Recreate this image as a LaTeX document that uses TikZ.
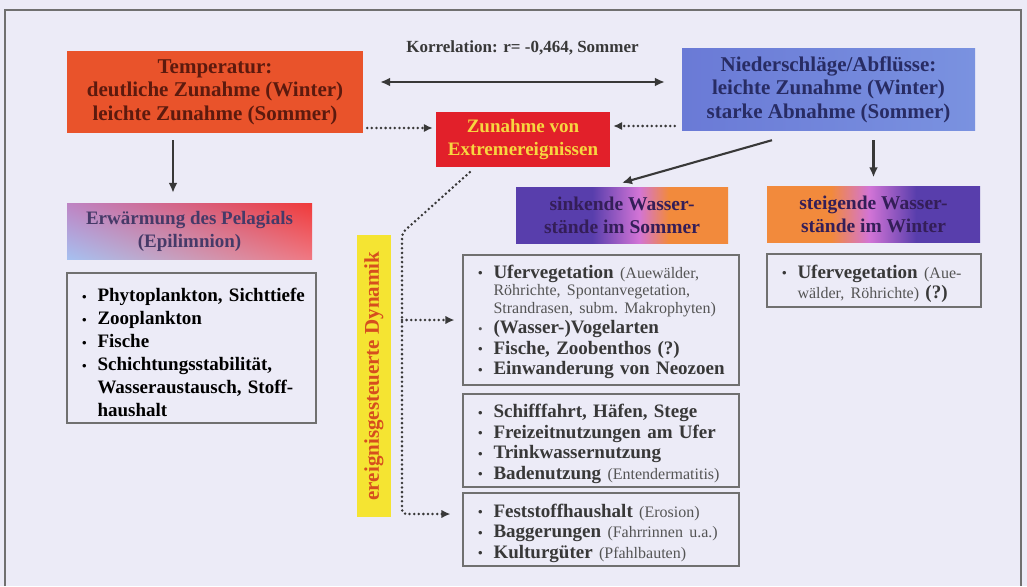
\documentclass[tikz,border=0pt]{standalone}
\usepackage{fontspec}
\setmainfont{Liberation Serif}
\usepackage{tikz}
\usetikzlibrary{arrows.meta}
\usetikzlibrary{positioning}
\usetikzlibrary{shadings}
\definecolor{mpaper}{RGB}{236, 235, 247}
\definecolor{mframe}{RGB}{112, 112, 112}
\definecolor{mtemp}{RGB}{233, 83, 43}
\definecolor{mtemptxt}{RGB}{92, 26, 14}
\definecolor{mnied}{RGB}{106, 122, 214}
\definecolor{mniedr}{RGB}{122, 146, 224}
\definecolor{mniedtxt}{RGB}{40, 44, 100}
\definecolor{mext}{RGB}{226, 32, 42}
\definecolor{mexttxt}{RGB}{247, 214, 64}
\definecolor{mviolet}{RGB}{88, 62, 172}
\definecolor{mpink}{RGB}{210, 116, 214}
\definecolor{morange}{RGB}{242, 138, 60}
\definecolor{mwastxt}{RGB}{52, 30, 88}
\definecolor{mblue}{RGB}{166, 192, 240}
\definecolor{mred}{RGB}{240, 58, 58}
\definecolor{mmauve}{RGB}{190, 132, 196}
\definecolor{msalmon}{RGB}{240, 120, 130}
\definecolor{mpelatxt}{RGB}{70, 58, 104}
\definecolor{myellow}{RGB}{245, 228, 50}
\definecolor{mdyntxt}{RGB}{214, 78, 30}
\definecolor{mdark}{RGB}{56, 56, 56}
\definecolor{mgrey}{RGB}{84, 84, 84}
\pgfdeclarehorizontalshading{sinkshade}{100bp}{color(0bp)=(mviolet); color(25bp)=(mviolet); color(43bp)=(mviolet); color(54bp)=(mpink); color(61bp)=(morange); color(75bp)=(morange); color(100bp)=(morange)}
\pgfdeclarehorizontalshading{steigshade}{100bp}{color(0bp)=(morange); color(25bp)=(morange); color(40bp)=(morange); color(49bp)=(mpink); color(60bp)=(mviolet); color(75bp)=(mviolet); color(100bp)=(mviolet)}
\newcommand{\lst}{\fontsize{19}{20.5}\selectfont\bfseries\color{mdark}}
\newcommand{\sml}{\fontsize{16}{17.5}\selectfont\mdseries\color{mgrey}}
\newcommand{\bul}{\par\leftskip=11pt\hangindent=15.5pt\hangafter=1\noindent\makebox[15.5pt][l]{\raisebox{0.5pt}{\fontsize{13}{13}\selectfont\textbullet}}}
\tikzset{
  headbox/.style={inner sep=2pt, align=center, font=\fontsize{21}{23.5}\selectfont\bfseries},
  wasbox/.style={inner sep=2pt, align=center, text=mwastxt, font=\fontsize{19.5}{23}\selectfont\bfseries},
  listbox/.style={draw=mframe, line width=1.1pt, inner xsep=4pt, inner ysep=2pt, font=\lst},
  solidarrow/.style={draw=mdark, line width=2.1pt, -{Latex[length=10pt, width=9pt]}},
  dotarrow/.style={draw=mdark, line width=2.8pt, line cap=round, dash pattern=on 0pt off 4.6pt, -{Latex[length=9pt, width=8.5pt]}}
}

\begin{document}
\begin{tikzpicture}[x=1pt, y=-1pt]
      \useasboundingbox (0, 0) rectangle (1027, 586);
      \fill [mpaper] (0, 0) rectangle (1027, 586);
      \draw [mframe, line width=1.2pt] (5, 586) -- (5, 10) -- (1021, 10) -- (1021, 586);

      \node (temp) at (215, 92) [headbox, fill=mtemp, text=mtemptxt, minimum width=296pt, minimum height=82pt] {Temperatur:\\ deutliche Zunahme (Winter)\\ leichte Zunahme (Sommer)};
      \node (nied) at (828.5, 89.5) [headbox, left color=mnied, right color=mniedr, text=mniedtxt, minimum width=293pt, minimum height=81pt] {Niederschläge/Abflüsse:\\ leichte Zunahme (Winter)\\ starke Abnahme (Sommer)};
      \node (extreme) at (523, 139.5) [headbox, fill=mext, text=mexttxt, minimum width=174pt, minimum height=55pt, font=\fontsize{19}{23}\selectfont\bfseries] {Zunahme von\\ Extremereignissen};

      \node (erw) at (189.5, 231) [headbox, upper left=mmauve, upper right=mred, lower left=mblue, lower right=msalmon, text=mpelatxt, minimum width=245pt, minimum height=56pt, font=\fontsize{19}{23}\selectfont\bfseries] {Erwärmung des Pelagials\\ (Epilimnion)};
      \node (sink) at (622, 215) [wasbox, shading=sinkshade, minimum width=212pt, minimum height=56pt] {sinkende Wasser-\\ stände im Sommer};
      \node (steig) at (873.5, 214.5) [wasbox, shading=steigshade, minimum width=213pt, minimum height=56pt] {steigende Wasser-\\ stände im Winter};

      \node (pela) at (191.5, 348) [listbox, minimum width=249pt, text width=241pt, minimum height=150pt, font=\fontsize{19}{23}\selectfont\bfseries] {\bul Phytoplankton, Sichttiefe
        \bul Zooplankton
        \bul Fische
        \bul Schichtungsstabilität,\newline Wasseraustausch, Stoff-\newline haushalt\par};
      \node (ufer) at (601, 320) [listbox, minimum width=276pt, text width=268pt, minimum height=130pt] {\bul Ufervegetation \sml (Auewälder,\newline Röhrichte, Spontanvegetation,\newline Strandrasen, subm.\ Makrophyten)
        \bul\lst (Wasser-)Vogelarten
        \bul Fische, Zoobenthos (?)
        \bul Einwanderung von Neozoen\par};
      \node (nutz) at (601, 440.5) [listbox, minimum width=276pt, text width=268pt, minimum height=93pt] {\bul Schifffahrt, Häfen, Stege
        \bul Freizeitnutzungen am Ufer
        \bul Trinkwassernutzung
        \bul Badenutzung {\sml (Entendermatitis)}\par};
      \node (fest) at (601, 529.5) [listbox, minimum width=276pt, text width=268pt, minimum height=73pt] {\bul Feststoffhaushalt {\sml (Erosion)}
        \bul Baggerungen {\sml (Fahrrinnen u.a.)}
        \bul Kulturgüter {\sml (Pfahlbauten)}\par};
      \node (uferwin) at (874, 280.5) [listbox, minimum width=214pt, text width=206pt, minimum height=53pt] {\bul Ufervegetation {\sml (Aue-\newline wälder, Röhrichte)} (?)\par};

      \node (dyn) at (374, 376) [rotate=90, fill=myellow, text=mdyntxt, inner sep=2pt, minimum width=282pt, minimum height=34pt, font=\fontsize{21}{23}\selectfont\bfseries] {ereignisgesteuerte Dynamik};

      \draw [solidarrow, {Latex[length=10pt, width=9pt]}-{Latex[length=10pt, width=9pt]}, shorten <=17pt, shorten >=17pt] (temp.east |- 0, 82) -- (nied.west |- 0, 82) node (korr) [midway, above=22pt, text=mdark, font=\fontsize{17}{20}\selectfont\bfseries] {Korrelation: r= -0,464, Sommer};
      \draw [solidarrow, shorten <=7pt, shorten >=10pt] (temp.south -| 173, 0) -- (erw.north -| 173, 0);
      \draw [dotarrow, shorten <=4pt, shorten >=3pt] (temp.east |- 0, 128) -- (extreme.west |- 0, 128);
      \draw [dotarrow, shorten <=7pt, shorten >=3pt] (nied.west |- 0, 126) -- (extreme.east |- 0, 126);
      \draw [solidarrow] ([xshift=-56.5pt, yshift=-10pt]nied.south) -- ([yshift=4pt]sink.north);
      \draw [solidarrow, shorten <=10pt, shorten >=9pt] (steig.north |- nied.south) -- (steig.north);

      \coordinate (bend) at (402, 233);
      \coordinate (foot) at (402, 514);
      \draw [dotarrow, rounded corners=4pt, shorten >=12pt] ([xshift=34pt, yshift=-5pt]extreme.south west) -- (bend) -- (foot) -- (fest.west |- foot);
      \draw [dotarrow, shorten >=8pt] (bend |- ufer.west) -- (ufer.west);
\end{tikzpicture}
\end{document}
